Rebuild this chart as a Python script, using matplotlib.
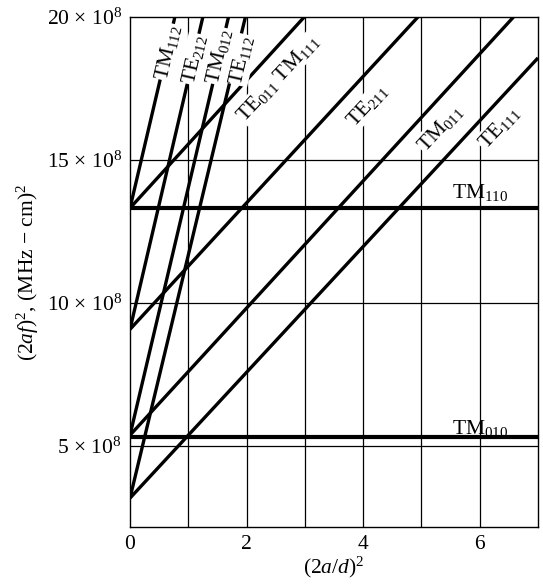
import numpy as np
import matplotlib
matplotlib.use('Agg')
import matplotlib.pyplot as plt

plt.rcParams['font.family'] = ['Liberation Serif', 'DejaVu Serif']
plt.rcParams['mathtext.fontset'] = 'custom'
plt.rcParams['mathtext.rm'] = 'Liberation Serif'
plt.rcParams['mathtext.it'] = 'Liberation Serif:italic'
plt.rcParams['mathtext.bf'] = 'Liberation Serif:bold'

# mode lines, values in units of 1e8 (MHz-cm)^2
modes = ['TM010', 'TM110', 'TE111', 'TM011', 'TE211', 'TE011/TM111',
         'TE112', 'TM012', 'TE212', 'TM112']
y_start = [5.30, 13.32, 3.18, 5.38, 9.08, 13.32, 3.18, 5.38, 9.08, 13.32]
x_end = [7.0, 7.0, 7.0, 6.58, 4.94, 2.99, 1.98, 1.69, 1.25, 0.77]
y_end = [5.30, 13.32, 18.57, 20.0, 20.0, 20.0, 20.0, 20.0, 20.0, 20.0]
lw_mode = [3.0, 3.0, 2.4, 2.4, 2.4, 2.4, 2.4, 2.4, 2.4, 2.4]

labels = [r'TM$_{010}$', r'TM$_{110}$', r'TE$_{111}$', r'TM$_{011}$', r'TE$_{211}$',
          r'TE$_{011}$ TM$_{111}$', r'TE$_{112}$', r'TM$_{012}$', r'TE$_{212}$', r'TM$_{112}$']
lab_x = [6.0, 6.0, 6.33, 5.32, 4.07, 2.54, 1.92, 1.53, 1.10, 0.65]
lab_y = [5.63, 13.85, 16.12, 16.12, 16.89, 17.87, 18.50, 18.64, 18.53, 18.78]
lab_rot = [0, 0, 47, 47, 47, 47, 77, 77, 77, 77]

y_ticks = [5, 10, 15, 20]
x_ticks = [0, 2, 4, 6]

fig = plt.figure(figsize=(5.43, 5.84), dpi=100)
ax = fig.add_axes([0.2394, 0.0976, 0.7514, 0.8733])

for xv in range(1, 7):
    ax.axvline(xv, color='black', lw=0.9, zorder=1)
for yv in [5, 10, 15]:
    ax.axhline(yv, color='black', lw=0.9, zorder=1)

for i in range(len(modes)):
    ax.plot([0, x_end[i]], [y_start[i], y_end[i]], color='black',
            lw=lw_mode[i], solid_capstyle='butt', zorder=2)

for i in range(len(labels)):
    bb = None
    if lab_rot[i] != 0:
        bb = dict(facecolor='white', edgecolor='none', pad=0.5)
    ax.text(lab_x[i], lab_y[i], labels[i], rotation=lab_rot[i],
            rotation_mode='anchor', ha='center', va='center',
            fontsize=15.5, bbox=bb, zorder=3)

ax.set_xlim(0, 7)
ax.set_ylim(2.17, 20)
ax.set_xticks(x_ticks)
ax.set_xticklabels([str(v) for v in x_ticks])
ax.set_yticks(y_ticks)
ax.set_yticklabels(['%d × 10$^{8}$' % v for v in y_ticks])
ax.tick_params(length=0, labelsize=15.5, pad=6)
for s in ax.spines.values():
    s.set_linewidth(1.0)

ax.set_xlabel(r'$(2a/d)^2$', fontsize=15.5, labelpad=0)
ax.set_ylabel(r'$(2af)^2$, (MHz $-$ cm)$^2$', fontsize=15.5, labelpad=4)

fig.savefig('out.png', dpi=100)
